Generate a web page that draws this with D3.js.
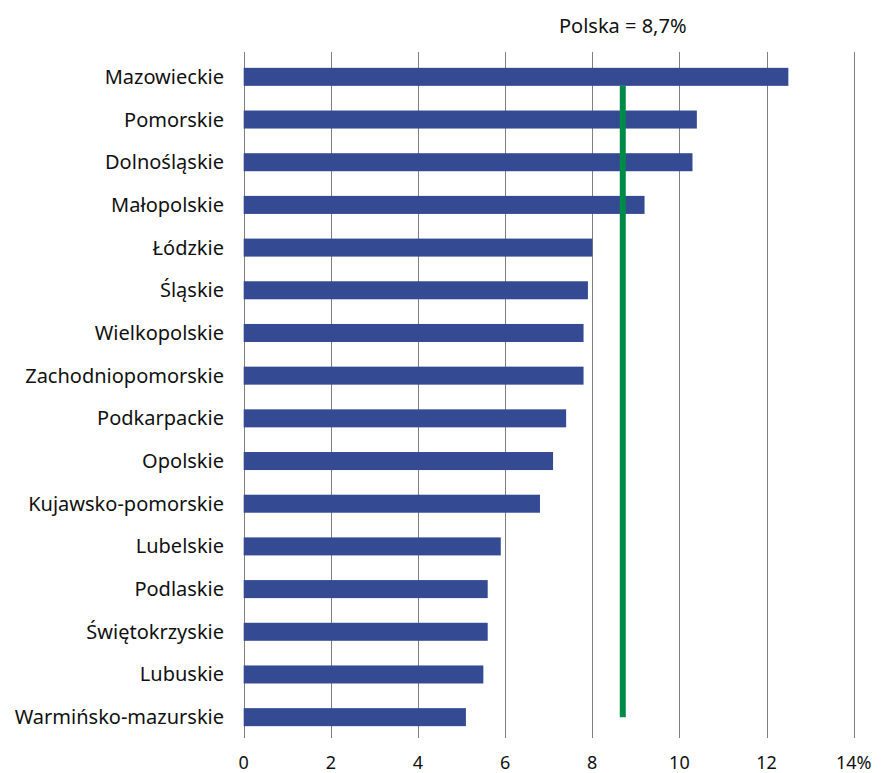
<!DOCTYPE html>
<html><head><meta charset="utf-8">
<script src="https://cdn.jsdelivr.net/npm/d3@7"></script>
<style>body{margin:0;background:#fff}svg{display:block}text{font-family:"Noto Sans",sans-serif}</style>
</head><body>
<script>
const categories = ["Mazowieckie","Pomorskie","Dolnośląskie","Małopolskie","Łódzkie","Śląskie","Wielkopolskie","Zachodniopomorskie","Podkarpackie","Opolskie","Kujawsko-pomorskie","Lubelskie","Podlaskie","Świętokrzyskie","Lubuskie","Warmińsko-mazurskie"];
const values = [12.5,10.4,10.3,9.2,8.0,7.9,7.8,7.8,7.4,7.1,6.8,5.9,5.6,5.6,5.5,5.1];
const ticks = [0,2,4,6,8,10,12,14];
const tickLabels = ["0","2","4","6","8","10","12","14%"];
const polska = 8.7;
const polskaLabel = "Polska = 8,7%";

const W = 882, H = 773;
const svg = d3.select("body").append("svg").attr("width", W).attr("height", H);
const x = d3.scaleLinear().domain([0,14]).range([243.7,853.7]);
const y = d3.scaleBand().domain(categories).range([55.5,738.5]).paddingInner(0.578).paddingOuter(0.289);

// gridlines
svg.append("g").selectAll("line").data(ticks).join("line")
  .attr("x1", d=>Math.round(x(d))+0.5).attr("x2", d=>Math.round(x(d))+0.5)
  .attr("y1", 52).attr("y2", 738)
  .attr("stroke", "#7f7f7f").attr("stroke-width", 1);

// bars
svg.append("g").selectAll("rect").data(values).join("rect")
  .attr("x", x(0)).attr("y", (d,i)=>y(categories[i]))
  .attr("width", d=>x(d)-x(0)).attr("height", y.bandwidth())
  .attr("fill", "#344b93");

// polska line
svg.append("line")
  .attr("x1", x(polska)).attr("x2", x(polska))
  .attr("y1", y(categories[0]) + y.bandwidth())
  .attr("y2", y(categories[categories.length-1]) + y.bandwidth()/2)
  .attr("stroke", "#008a47").attr("stroke-width", 6);

svg.append("text").attr("x", x(polska)).attr("y", 33)
  .attr("text-anchor","middle").attr("font-size", 20).attr("fill","#111")
  .text(polskaLabel);

// category labels
svg.append("g").selectAll("text").data(categories).join("text")
  .attr("x", 224).attr("y", d=>y(d)+y.bandwidth()/2).attr("dy","0.35em")
  .attr("text-anchor","end").attr("font-size", 20).attr("fill","#111")
  .text(d=>d);

// tick labels
svg.append("g").selectAll("text").data(ticks).join("text")
  .attr("x", d=>x(d)).attr("y", 769)
  .attr("text-anchor","middle").attr("font-size", 18).attr("fill","#111")
  .text((d,i)=>tickLabels[i]);
</script>
</body></html>
